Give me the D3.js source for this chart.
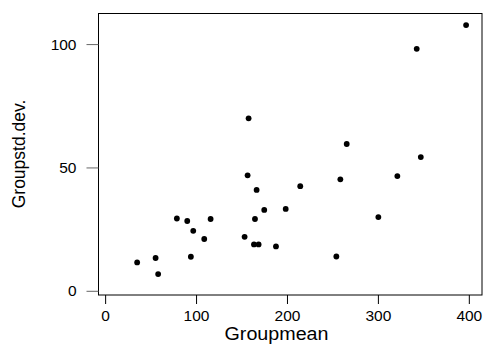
<!DOCTYPE html>
<html>
<head>
<meta charset="utf-8">
<script src="https://cdn.jsdelivr.net/npm/d3@7"></script>
<style>
    body { margin: 0; background: #fff; }
    text { font-family: 'Liberation Sans', Arial, sans-serif; fill: #000; }
</style>
</head>
<body>
<div id="chart"></div>
<script>
// group means and group standard deviations
const groupMean = [
    35.2, 55.5, 58.3, 78.9, 90.3, 94.3, 96.9, 109.0, 116.0,
    153.4, 156.7, 157.8, 163.7, 164.8, 166.6, 168.8, 175.0, 187.9,
    198.6, 214.6, 254.3, 258.7, 265.7, 300.5, 321.4, 342.7, 347.2, 397.0
];
const groupSd = [
    11.5, 13.3, 6.8, 29.3, 28.3, 13.8, 24.3, 21.0, 29.1,
    21.9, 46.8, 69.9, 18.8, 29.1, 40.9, 18.8, 32.8, 18.0,
    33.2, 42.4, 13.9, 45.2, 59.5, 29.9, 46.5, 98.1, 54.2, 107.7
];
const xTicks = [0, 100, 200, 300, 400];
const yTicks = [0, 50, 100];

const width = 483;
const height = 345;
const plotLeft = 98.5, plotRight = 482, plotTop = 13.5, plotBottom = 295;

const svg = d3.select('#chart')
    .append('svg')
    .attr('width', width)
    .attr('height', height);

const x = d3.scaleLinear()
    .domain([-7.3, 414.5])
    .range([plotLeft, plotRight]);

const y = d3.scaleLinear()
    .domain([-1.7, 112.4])
    .range([plotBottom, plotTop]);

// box
svg.append('rect')
    .attr('x', plotLeft)
    .attr('y', plotTop)
    .attr('width', plotRight - plotLeft)
    .attr('height', plotBottom - plotTop)
    .attr('fill', 'none')
    .attr('stroke', '#000')
    .attr('stroke-width', 1);

// x axis
const xAxis = svg.append('g')
    .attr('transform', `translate(0,${plotBottom})`)
    .call(d3.axisBottom(x).tickValues(xTicks).tickSize(9).tickPadding(6));
xAxis.select('.domain').remove();
xAxis.selectAll('line').attr('stroke', '#000');
xAxis.selectAll('text')
    .attr('font-size', 15.5)
    .style('font-family', "'Liberation Sans', Arial, sans-serif");

// y axis
const yAxis = svg.append('g')
    .attr('transform', `translate(${plotLeft},0)`)
    .call(d3.axisLeft(y).tickValues(yTicks).tickSize(12).tickPadding(10));
yAxis.select('.domain').remove();
yAxis.selectAll('line').attr('stroke', '#666');
yAxis.selectAll('text')
    .attr('font-size', 15.5)
    .style('font-family', "'Liberation Sans', Arial, sans-serif");

// points
svg.append('g')
    .selectAll('circle')
    .data(groupMean)
    .enter()
    .append('circle')
    .attr('cx', d => x(d))
    .attr('cy', (d, i) => y(groupSd[i]))
    .attr('r', 2.9)
    .attr('fill', '#000');

// axis titles
svg.append('text')
    .attr('x', 276.5)
    .attr('y', 340)
    .attr('text-anchor', 'middle')
    .attr('font-size', 17.5)
    .attr('textLength', 104)
    .attr('lengthAdjust', 'spacingAndGlyphs')
    .text('Groupmean');

svg.append('text')
    .attr('transform', 'translate(24.5,154) rotate(-90)')
    .attr('text-anchor', 'middle')
    .attr('font-size', 17.5)
    .text('Groupstd.dev.');
</script>
</body>
</html>
